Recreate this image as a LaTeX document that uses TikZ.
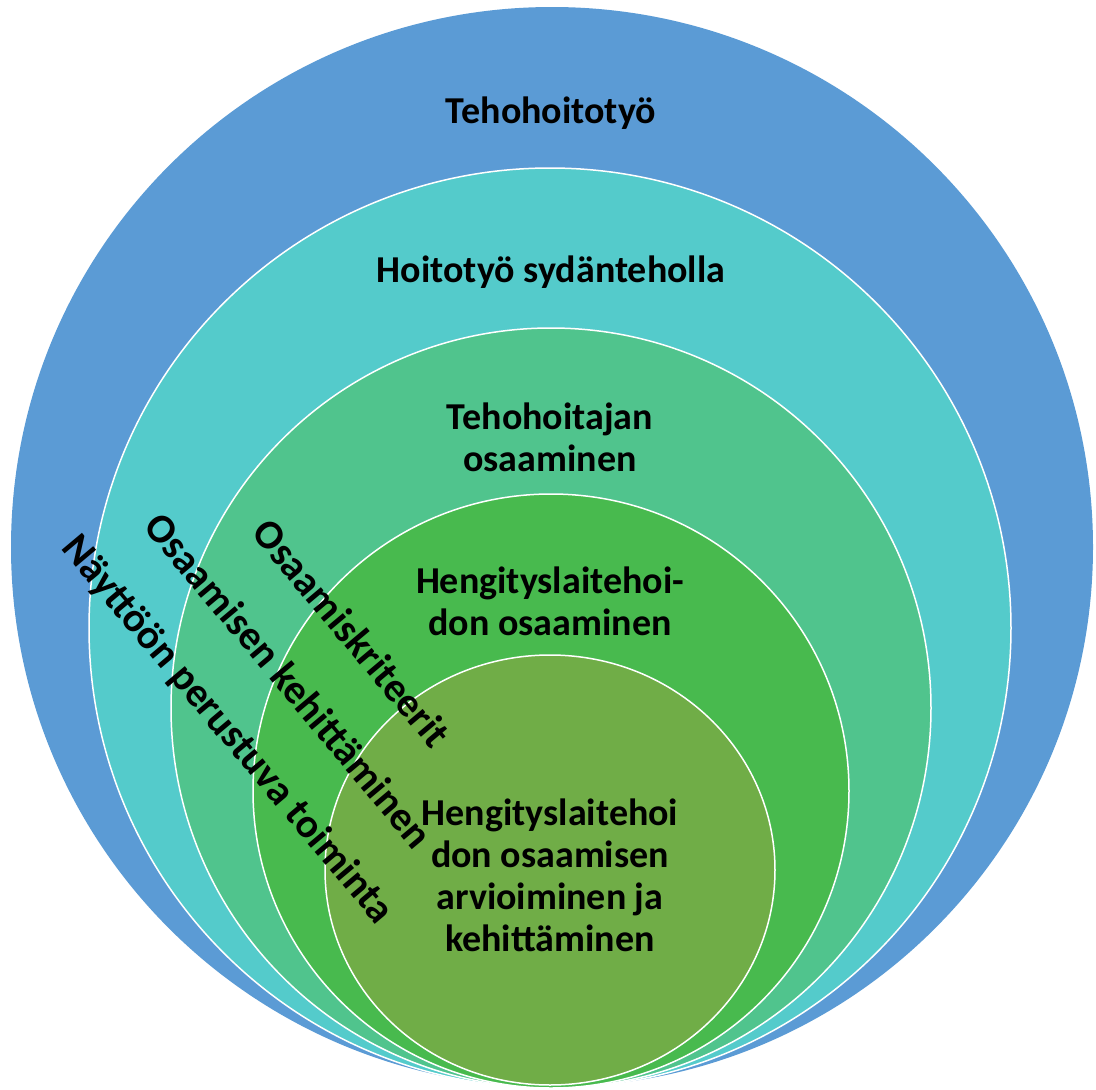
\documentclass[tikz,border=0pt]{standalone}
\usepackage{fontspec}
\setmainfont{Carlito}
\usetikzlibrary{positioning}
\definecolor{cblue}{RGB}{91,155,213}
\definecolor{cturq}{RGB}{84,203,203}
\definecolor{cmint}{RGB}{80,196,141}
\definecolor{cgreen}{RGB}{72,186,78}
\definecolor{colive}{RGB}{112,173,71}

\begin{document}
\begin{tikzpicture}[x=1pt,y=-1pt,
		ring/.style={draw=white,line width=1.5pt},
		lbl/.style={font=\bfseries\fontsize{38}{42}\selectfont,align=center,inner sep=0pt},
		slant/.style={font=\bfseries\fontsize{41}{46}\selectfont,rotate=-50,inner sep=0pt}]
		\useasboundingbox (0,0) rectangle (1096,1090);
		% nested rings, all touching at the bottom
		\fill[cblue] (552,547) ellipse [x radius=541, y radius=540];
		\draw[ring,fill=cturq] (550,628) ellipse [x radius=461, y radius=460];
		\draw[ring,fill=cmint] (551,708) ellipse [x radius=380, y radius=380];
		\draw[ring,fill=cgreen] (551,791) ellipse [x radius=298, y radius=297];
		\draw[ring,fill=colive] (550,870) ellipse [x radius=225, y radius=215];
		
		\draw (551,113) node[lbl] (teho){Tehohoitotyö}
		(551,272) node[lbl] (sydan) {Hoitotyö sydänteholla}
		(550,437) node[lbl] (tehoos) {Tehohoitajan\\osaaminen}
		(550,601) node[lbl] (hengos) {Hengityslaitehoi-\\don osaaminen}
		(550,875) node[lbl] (arvio) {Hengityslaitehoi\\don osaamisen\\arvioiminen ja\\kehittäminen};
		
		\draw (352,633) node[slant] (krit) {Osaamiskriteerit}
		(289,680) node[slant] (kehit) {Osaamisen kehittäminen}
		(227,730) node[slant] (nayt) {Näyttöön perustuva toiminta};
	\end{tikzpicture}
\end{document}
